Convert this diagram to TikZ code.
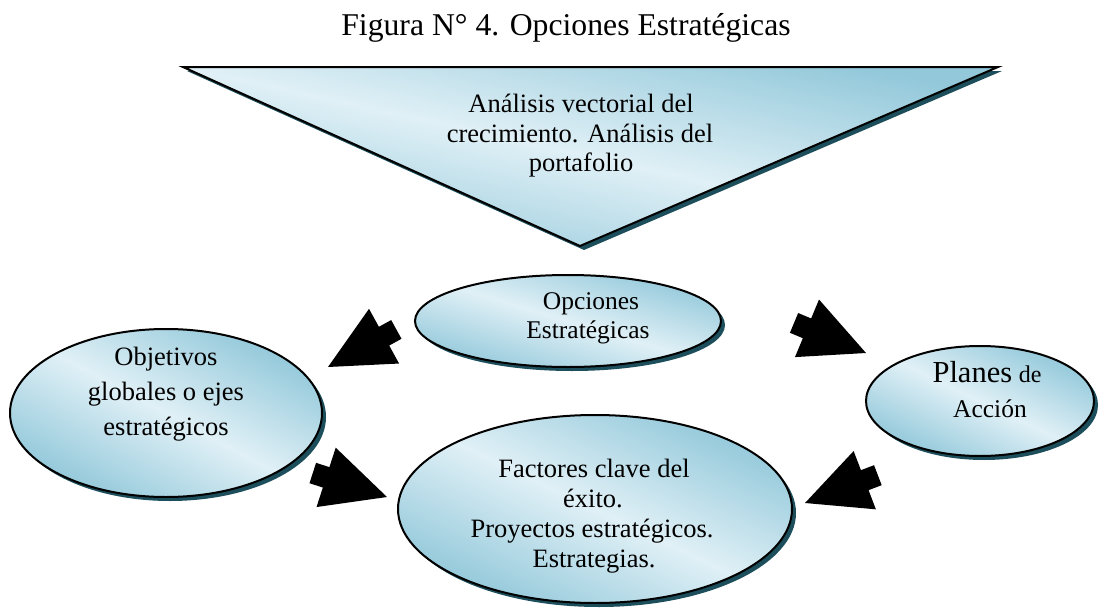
\documentclass[tikz,border=0pt]{standalone}
\usepackage{fontspec}
\setmainfont{Liberation Serif}
\usetikzlibrary{shapes.geometric,shapes.arrows,shadows}
\definecolor{aqualight}{RGB}{224,240,246}
\definecolor{aquadeep}{RGB}{146,200,218}
\definecolor{shadowteal}{RGB}{28,78,92}
\tikzset{
  % diagonal gradient spread over the bounding box of the shape
  panel/.style={draw=black, line width=2pt,
    path picture={\shade[top color=aquadeep, bottom color=aquadeep, middle color=aqualight, shading angle=#1]
      (path picture bounding box.south west) rectangle (path picture bounding box.north east);},
    drop shadow={shadow xshift=4pt, shadow yshift=-4pt, fill=shadowteal, opacity=1}},
  bubble/.style={panel=#1, ellipse, inner sep=0pt, outer sep=0pt},
  lbl/.style={anchor=base, inner sep=0pt, font=\fontsize{26.5}{30}\selectfont},
  blockarrow/.style={single arrow, fill=black, draw=none, inner xsep=0pt, inner ysep=10.5pt,
    outer sep=0pt, minimum width=0pt, minimum height=78pt,
    single arrow head extend=20.5pt, single arrow tip angle=52, anchor=tip}
}
\begin{document}
\begin{tikzpicture}[x=1pt,y=-1pt]
\useasboundingbox (0,0) rectangle (1104,613);

% caption
\node[lbl, font=\fontsize{31.7}{36}\selectfont] (title) at (566,35) {Figura N° 4. Opciones Estratégicas};

% inverted triangle at the top
\path[panel=-12.4] (183,67) coordinate (tl) -- (998,67) coordinate (tr) -- (580,246) coordinate (apex) -- cycle;
\node[lbl] (tri1) at (581,112) {Análisis vectorial del};
\node[lbl] (tri2) at (580,142) {crecimiento. Análisis del};
\node[lbl] (tri3) at (581,171) {portafolio};

% ellipses
\node[bubble=-16.7, minimum width=306pt, minimum height=92pt] (opc) at (568,321) {};
\node[bubble=-28.3, minimum width=312pt, minimum height=168pt] (obj) at (166,413) {};
\node[bubble=-25.8, minimum width=228pt, minimum height=110pt] (plan) at (980,401) {};
\node[bubble=-25.5, minimum width=394pt, minimum height=188pt] (fac) at (595,509) {};

% ellipse texts
\node[lbl, font=\fontsize{25.5}{29}\selectfont] (opc1) at (591,309) {Opciones};
\node[lbl, font=\fontsize{25.5}{29}\selectfont] (opc2) at (588,338) {Estratégicas};

\node[lbl] (obj1) at (166,365) {Objetivos};
\node[lbl] (obj2) at (166,400) {globales o ejes};
\node[lbl] (obj3) at (166,435) {estratégicos};

\node[lbl] (plan1) at (987,382) {{\fontsize{30.5}{35}\selectfont Planes} {\fontsize{24}{30}\selectfont de}};
\node[lbl, font=\fontsize{25.5}{30}\selectfont] (plan2) at (990,417) {Acción};

\node[lbl] (fac1) at (594,477) {Factores clave del};
\node[lbl] (fac2) at (593,507) {éxito.};
\node[lbl] (fac3) at (592,537) {Proyectos estratégicos.};
\node[lbl] (fac4) at (594,567) {Estrategias.};

% block arrows
\node[blockarrow, rotate=208.8] (arr1) at (328,367) {};
\node[blockarrow, rotate=-22.7] (arr2) at (866,353) {};
\node[blockarrow, rotate=-17.9] (arr3) at (387,497) {};
\node[blockarrow, rotate=200.9] (arr4) at (805,503) {};
\end{tikzpicture}
\end{document}
